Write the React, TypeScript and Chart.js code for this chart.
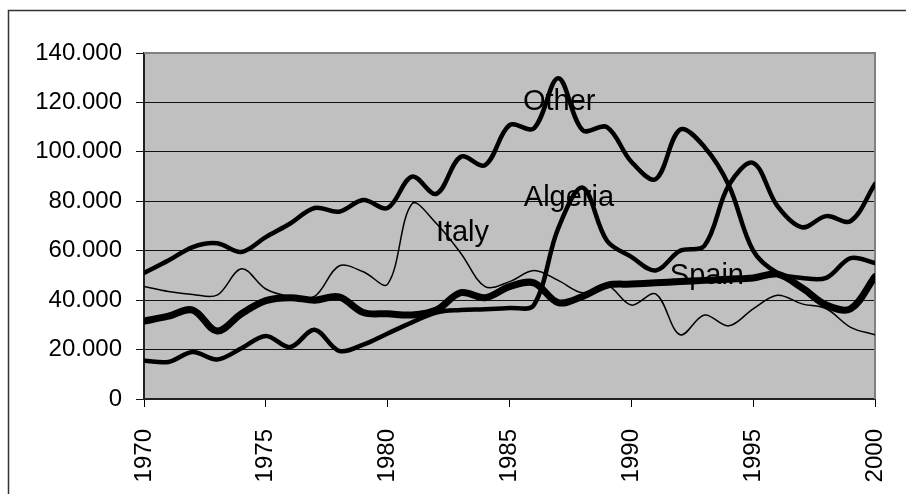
import React, { useEffect, useRef } from "react";
import { Chart, registerables } from "chart.js";

Chart.register(...registerables);

// ---- Data (values in thousands) ----
const years = [
  1970, 1971, 1972, 1973, 1974, 1975, 1976, 1977, 1978, 1979, 1980, 1981, 1982, 1983, 1984, 1985,
  1986, 1987, 1988, 1989, 1990, 1991, 1992, 1993, 1994, 1995, 1996, 1997, 1998, 1999, 2000,
];
const other = [
  51, 56, 61.5, 63, 59.5, 65.5, 71, 77.3, 75.8, 80.5, 77.3, 90, 83, 98, 94.6, 110.8,
  109.5, 129.8, 108.8, 110, 96, 89, 109, 102, 86.5, 60, 51, 49, 49, 57, 55,
];
const algeria = [
  15.5, 15, 19, 16, 20.5, 25.5, 21, 28, 19.5, 22, 26.5, 31, 35, 36, 36.3, 36.8,
  38, 69, 85.5, 64, 57.5, 52, 60, 62, 86.5, 95.5, 78, 69.5, 74, 72, 87,
];
const italy = [
  45.5, 43.5, 42.3, 42, 52.7, 44.5, 41.5, 41.5, 53.8, 51.5, 46.5, 79, 71, 59, 45.5, 47.5,
  52, 48, 43, 46, 38, 42.5, 26, 34, 29.6, 36.5, 42, 38.5, 36.5, 29, 26,
];
const spain = [
  31.5, 33.5, 36, 27.5, 34.5, 39.8, 41, 40, 41.3, 35, 34.5, 34, 36, 43, 41, 45.5,
  47, 39, 41.5, 46, 46.5, 47, 47.5, 48, 48.5, 49, 50.5, 45, 38, 36.5, 49.5,
];
const xTicks = [1970, 1975, 1980, 1985, 1990, 1995, 2000];
const yTicks = [0, 20000, 40000, 60000, 80000, 100000, 120000, 140000];
const seriesNames = ["Other", "Algeria", "Italy", "Spain"];

// in-plot series name annotations (data coordinates)
const annoYears = [1987.04, 1987.44, 1983.07, 1993.1];
const annoValues = [116900, 78200, 64000, 46600];

const FONT = "'Liberation Sans', Arial, sans-serif";

const fmtY = (v: number) => (v === 0 ? "0" : `${Math.round(v / 1000)}.000`);

const pts = (arr: number[]) => arr.map((v, i) => ({ x: years[i], y: v * 1000 }));

const framePlugin = {
  id: "frame",
  beforeDraw(chart: any) {
    const { ctx, chartArea: a } = chart;
    ctx.save();
    ctx.fillStyle = "#ffffff";
    ctx.fillRect(0, 0, chart.width, chart.height);
    // outer chart border (extends beyond view)
    ctx.strokeStyle = "#333333";
    ctx.lineWidth = 1.5;
    ctx.strokeRect(8.5, 10.5, 2000, 2000);
    ctx.fillStyle = "#c0c0c0";
    ctx.fillRect(a.left, a.top, a.right - a.left, a.bottom - a.top);
    ctx.restore();
  },
  beforeDatasetsDraw(chart: any) {
    const { ctx, chartArea: a } = chart;
    ctx.save();
    ctx.strokeStyle = "#808080";
    ctx.lineWidth = 2;
    ctx.beginPath();
    ctx.moveTo(a.left, a.top);
    ctx.lineTo(a.right, a.top);
    ctx.lineTo(a.right, a.bottom);
    ctx.stroke();
    ctx.restore();
  },
  afterDatasetsDraw(chart: any) {
    const { ctx } = chart;
    const xs = chart.scales.x;
    const ys = chart.scales.y;
    ctx.save();
    ctx.fillStyle = "#000";
    ctx.font = `29px ${FONT}`;
    ctx.textAlign = "center";
    ctx.textBaseline = "alphabetic";
    seriesNames.forEach((n, i) => {
      ctx.fillText(n, xs.getPixelForValue(annoYears[i]), ys.getPixelForValue(annoValues[i]));
    });
    ctx.restore();
  },
};

export default function App() {
  const ref = useRef<HTMLCanvasElement | null>(null);
  useEffect(() => {
    if (!ref.current) return;
    const mk = (label: string, arr: number[], w: number) => ({
      label,
      data: pts(arr),
      borderColor: "#000",
      backgroundColor: "#000",
      borderWidth: w,
      pointRadius: 0,
      tension: 0.35,
      fill: false,
      borderJoinStyle: "round" as const,
      borderCapStyle: "round" as const,
    });
    const chart = new Chart(ref.current, {
      type: "line",
      data: {
        datasets: [
          mk("Other", other, 4.5),
          mk("Algeria", algeria, 4.5),
          mk("Italy", italy, 1.5),
          mk("Spain", spain, 7),
        ],
      },
      options: {
        animation: false,
        responsive: false,
        maintainAspectRatio: false,
        devicePixelRatio: 1,
        layout: { padding: { left: 0, top: 53, right: 31, bottom: 0 } },
        plugins: { legend: { display: false }, tooltip: { enabled: false } },
        scales: {
          x: {
            type: "linear",
            min: 1970,
            max: 2000,
            afterBuildTicks: (s: any) => {
              s.ticks = xTicks.map((v) => ({ value: v }));
            },
            afterFit: (s: any) => {
              s.height = 95;
              s.paddingLeft = 0;
              s.paddingRight = 0;
            },
            ticks: {
              autoSkip: false,
              minRotation: 90,
              maxRotation: 90,
              padding: 22,
              color: "#000",
              font: { family: FONT, size: 24 },
              callback: (v: any) => String(v),
            },
            grid: { drawOnChartArea: false, drawTicks: true, tickLength: 8, color: "#000", lineWidth: 1 },
            border: { display: true, color: "#222", width: 2 },
          },
          y: {
            type: "linear",
            min: 0,
            max: 140000,
            afterBuildTicks: (s: any) => {
              s.ticks = yTicks.map((v) => ({ value: v }));
            },
            afterFit: (s: any) => {
              s.width = 144;
              s.paddingTop = 0;
              s.paddingBottom = 0;
            },
            ticks: {
              padding: 14,
              color: "#000",
              font: { family: FONT, size: 24 },
              callback: (v: any) => fmtY(Number(v)),
            },
            grid: { drawOnChartArea: true, drawTicks: true, tickLength: 8, color: "#111", lineWidth: 1 },
            border: { display: true, color: "#222", width: 2 },
          },
        },
      },
      plugins: [framePlugin],
    });
    return () => chart.destroy();
  }, []);
  return (
    <div style={{ position: "absolute", left: 0, top: 0, width: 906, height: 494 }}>
      <canvas ref={ref} width={906} height={494} style={{ width: 906, height: 494, display: "block" }} />
    </div>
  );
}
